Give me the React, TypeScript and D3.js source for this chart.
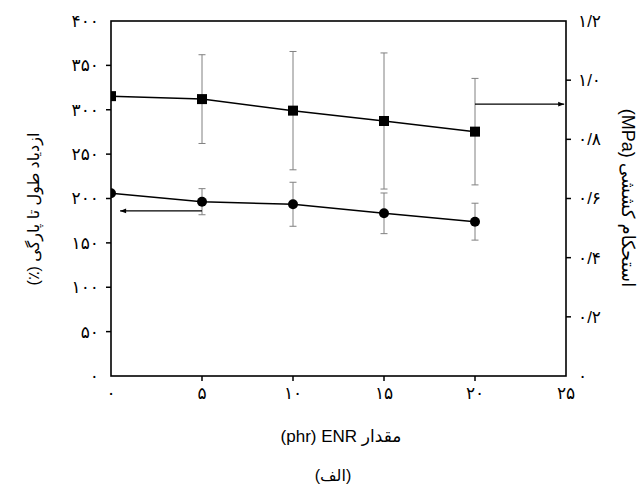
import React from 'react';
import * as d3 from 'd3';

// ENR content (phr)
const enr = [0, 5, 10, 15, 20];
// tensile strength (MPa), right axis
const strength = [0.946, 0.936, 0.897, 0.862, 0.826];
const strengthErr = [0, 0.15, 0.2, 0.23, 0.18];
// elongation at break (%), left axis
const elongation = [206, 196.4, 193.5, 183.3, 173.9];
const elongationErr = [0, 14.7, 24.8, 22.9, 20.8];

const xTicks = [0, 5, 10, 15, 20, 25];
const xTickLabels = ['۰', '۵', '۱۰', '۱۵', '۲۰', '۲۵'];
const leftTicks = [0, 50, 100, 150, 200, 250, 300, 350, 400];
const leftTickLabels = ['۰', '۵۰', '۱۰۰', '۱۵۰', '۲۰۰', '۲۵۰', '۳۰۰', '۳۵۰', '۴۰۰'];
const rightTicks = [0, 0.2, 0.4, 0.6, 0.8, 1.0, 1.2];
const rightTickLabels = ['۰', '۰/۲', '۰/۴', '۰/۶', '۰/۸', '۱/۰', '۱/۲'];

// arrows telling which axis each series belongs to
const leftArrow = { from: 5, to: 0.5, y: 186 };
const rightArrow = { from: 20, to: 24.9, y: 0.919 };

const W = 642;
const H = 494;
const margin = { top: 21, right: 76, bottom: 118, left: 111 };
const pw = W - margin.left - margin.right;
const ph = H - margin.top - margin.bottom;

const font = '"Liberation Sans", "DejaVu Sans", sans-serif';

export default function App() {
  const x = d3.scaleLinear().domain([0, 25]).range([0, pw]);
  const yL = d3.scaleLinear().domain([0, 400]).range([ph, 0]);
  const yR = d3.scaleLinear().domain([0, 1.2]).range([ph, 0]);

  const lineL = d3.line<number>().x((d, i) => x(enr[i])).y(d => yL(d));
  const lineR = d3.line<number>().x((d, i) => x(enr[i])).y(d => yR(d));

  const errColor = '#808080';
  const cap = 3.5;
  const tick = 5;

  const errBar = (cx: number, y1: number, y2: number, key: string) => (
    <g key={key} stroke={errColor} strokeWidth={1}>
      <line x1={cx} x2={cx} y1={y1} y2={y2} />
      <line x1={cx - cap} x2={cx + cap} y1={y1} y2={y1} />
      <line x1={cx - cap} x2={cx + cap} y1={y2} y2={y2} />
    </g>
  );

  return (
    <svg width={W} height={H} style={{ position: 'absolute', left: 0, top: 0, background: '#fff' }}>
      <defs>
        <clipPath id="plot">
          <rect x={0} y={0} width={pw} height={ph} />
        </clipPath>
        <marker id="arrow" viewBox="0 0 10 10" refX={10} refY={5} markerWidth={9} markerHeight={6} orient="auto" markerUnits="userSpaceOnUse">
          <path d="M0,1 L10,5 L0,9 Z" fill="#000" />
        </marker>
      </defs>
      <g transform={`translate(${margin.left},${margin.top})`}>
        <g clipPath="url(#plot)">
          {enr.map((e, i) => strengthErr[i] > 0 &&
            errBar(x(e), yR(strength[i] + strengthErr[i]), yR(strength[i] - strengthErr[i]), 's' + i))}
          {enr.map((e, i) => elongationErr[i] > 0 &&
            errBar(x(e), yL(elongation[i] + elongationErr[i]), yL(elongation[i] - elongationErr[i]), 'e' + i))}
          <path d={lineR(strength) || ''} fill="none" stroke="#000" strokeWidth={1.5} />
          <path d={lineL(elongation) || ''} fill="none" stroke="#000" strokeWidth={1.5} />
          {strength.map((v, i) => (
            <rect key={i} x={x(enr[i]) - 5} y={yR(v) - 5} width={10} height={10} fill="#000" />
          ))}
          {elongation.map((v, i) => (
            <circle key={i} cx={x(enr[i])} cy={yL(v)} r={5} fill="#000" />
          ))}
          <line x1={x(leftArrow.from)} x2={x(leftArrow.to)} y1={yL(leftArrow.y)} y2={yL(leftArrow.y)}
            stroke="#000" strokeWidth={1.3} markerEnd="url(#arrow)" />
          <line x1={x(rightArrow.from)} x2={x(rightArrow.to)} y1={yR(rightArrow.y)} y2={yR(rightArrow.y)}
            stroke="#000" strokeWidth={1.3} markerEnd="url(#arrow)" />
        </g>
        <rect x={0} y={0} width={pw} height={ph} fill="none" stroke="#000" strokeWidth={1.6} />

        {/* bottom axis */}
        {xTicks.map((t, i) => (
          <g key={t} transform={`translate(${x(t)},${ph})`}>
            {i > 0 && i < xTicks.length - 1 && <line y1={0} y2={tick} stroke="#000" strokeWidth={1.5} />}
            <text y={23} textAnchor="middle" fontFamily={font} fontSize={17} fill="#000">{xTickLabels[i]}</text>
          </g>
        ))}

        {/* left axis */}
        {leftTicks.map((t, i) => (
          <g key={t} transform={`translate(0,${yL(t)})`}>
            {i > 0 && i < leftTicks.length - 1 && <line x1={-tick} x2={0} stroke="#000" strokeWidth={1.5} />}
            <text x={-12} dy="0.35em" textAnchor="end" fontFamily={font} fontSize={17} fill="#000" direction="ltr">{leftTickLabels[i]}</text>
          </g>
        ))}

        {/* right axis */}
        {rightTicks.map((t, i) => (
          <g key={t} transform={`translate(${pw},${yR(t)})`}>
            {i > 0 && i < rightTicks.length - 1 && <line x1={0} x2={tick} stroke="#000" strokeWidth={1.5} />}
            <text x={12} dy="0.35em" textAnchor="start" fontFamily={font} fontSize={17} fill="#000" direction="ltr">{rightTickLabels[i]}</text>
          </g>
        ))}
      </g>

      <g fontFamily={font} fill="#000" textAnchor="middle">
        <text transform="translate(39,209) rotate(-90)" fontSize={16} style={{ direction: 'rtl' }}>ازدیاد طول تا پارگی (٪)</text>
        <text transform="translate(622,198) rotate(90)" fontSize={18} style={{ direction: 'rtl' }}>استحکام کششی (MPa)</text>
        <text x={341} y={442} fontSize={17} style={{ direction: 'ltr' }}>(phr) ENR مقدار</text>
        <text x={333} y={481} fontSize={16} style={{ direction: 'rtl' }}>(الف)</text>
      </g>
    </svg>
  );
}
